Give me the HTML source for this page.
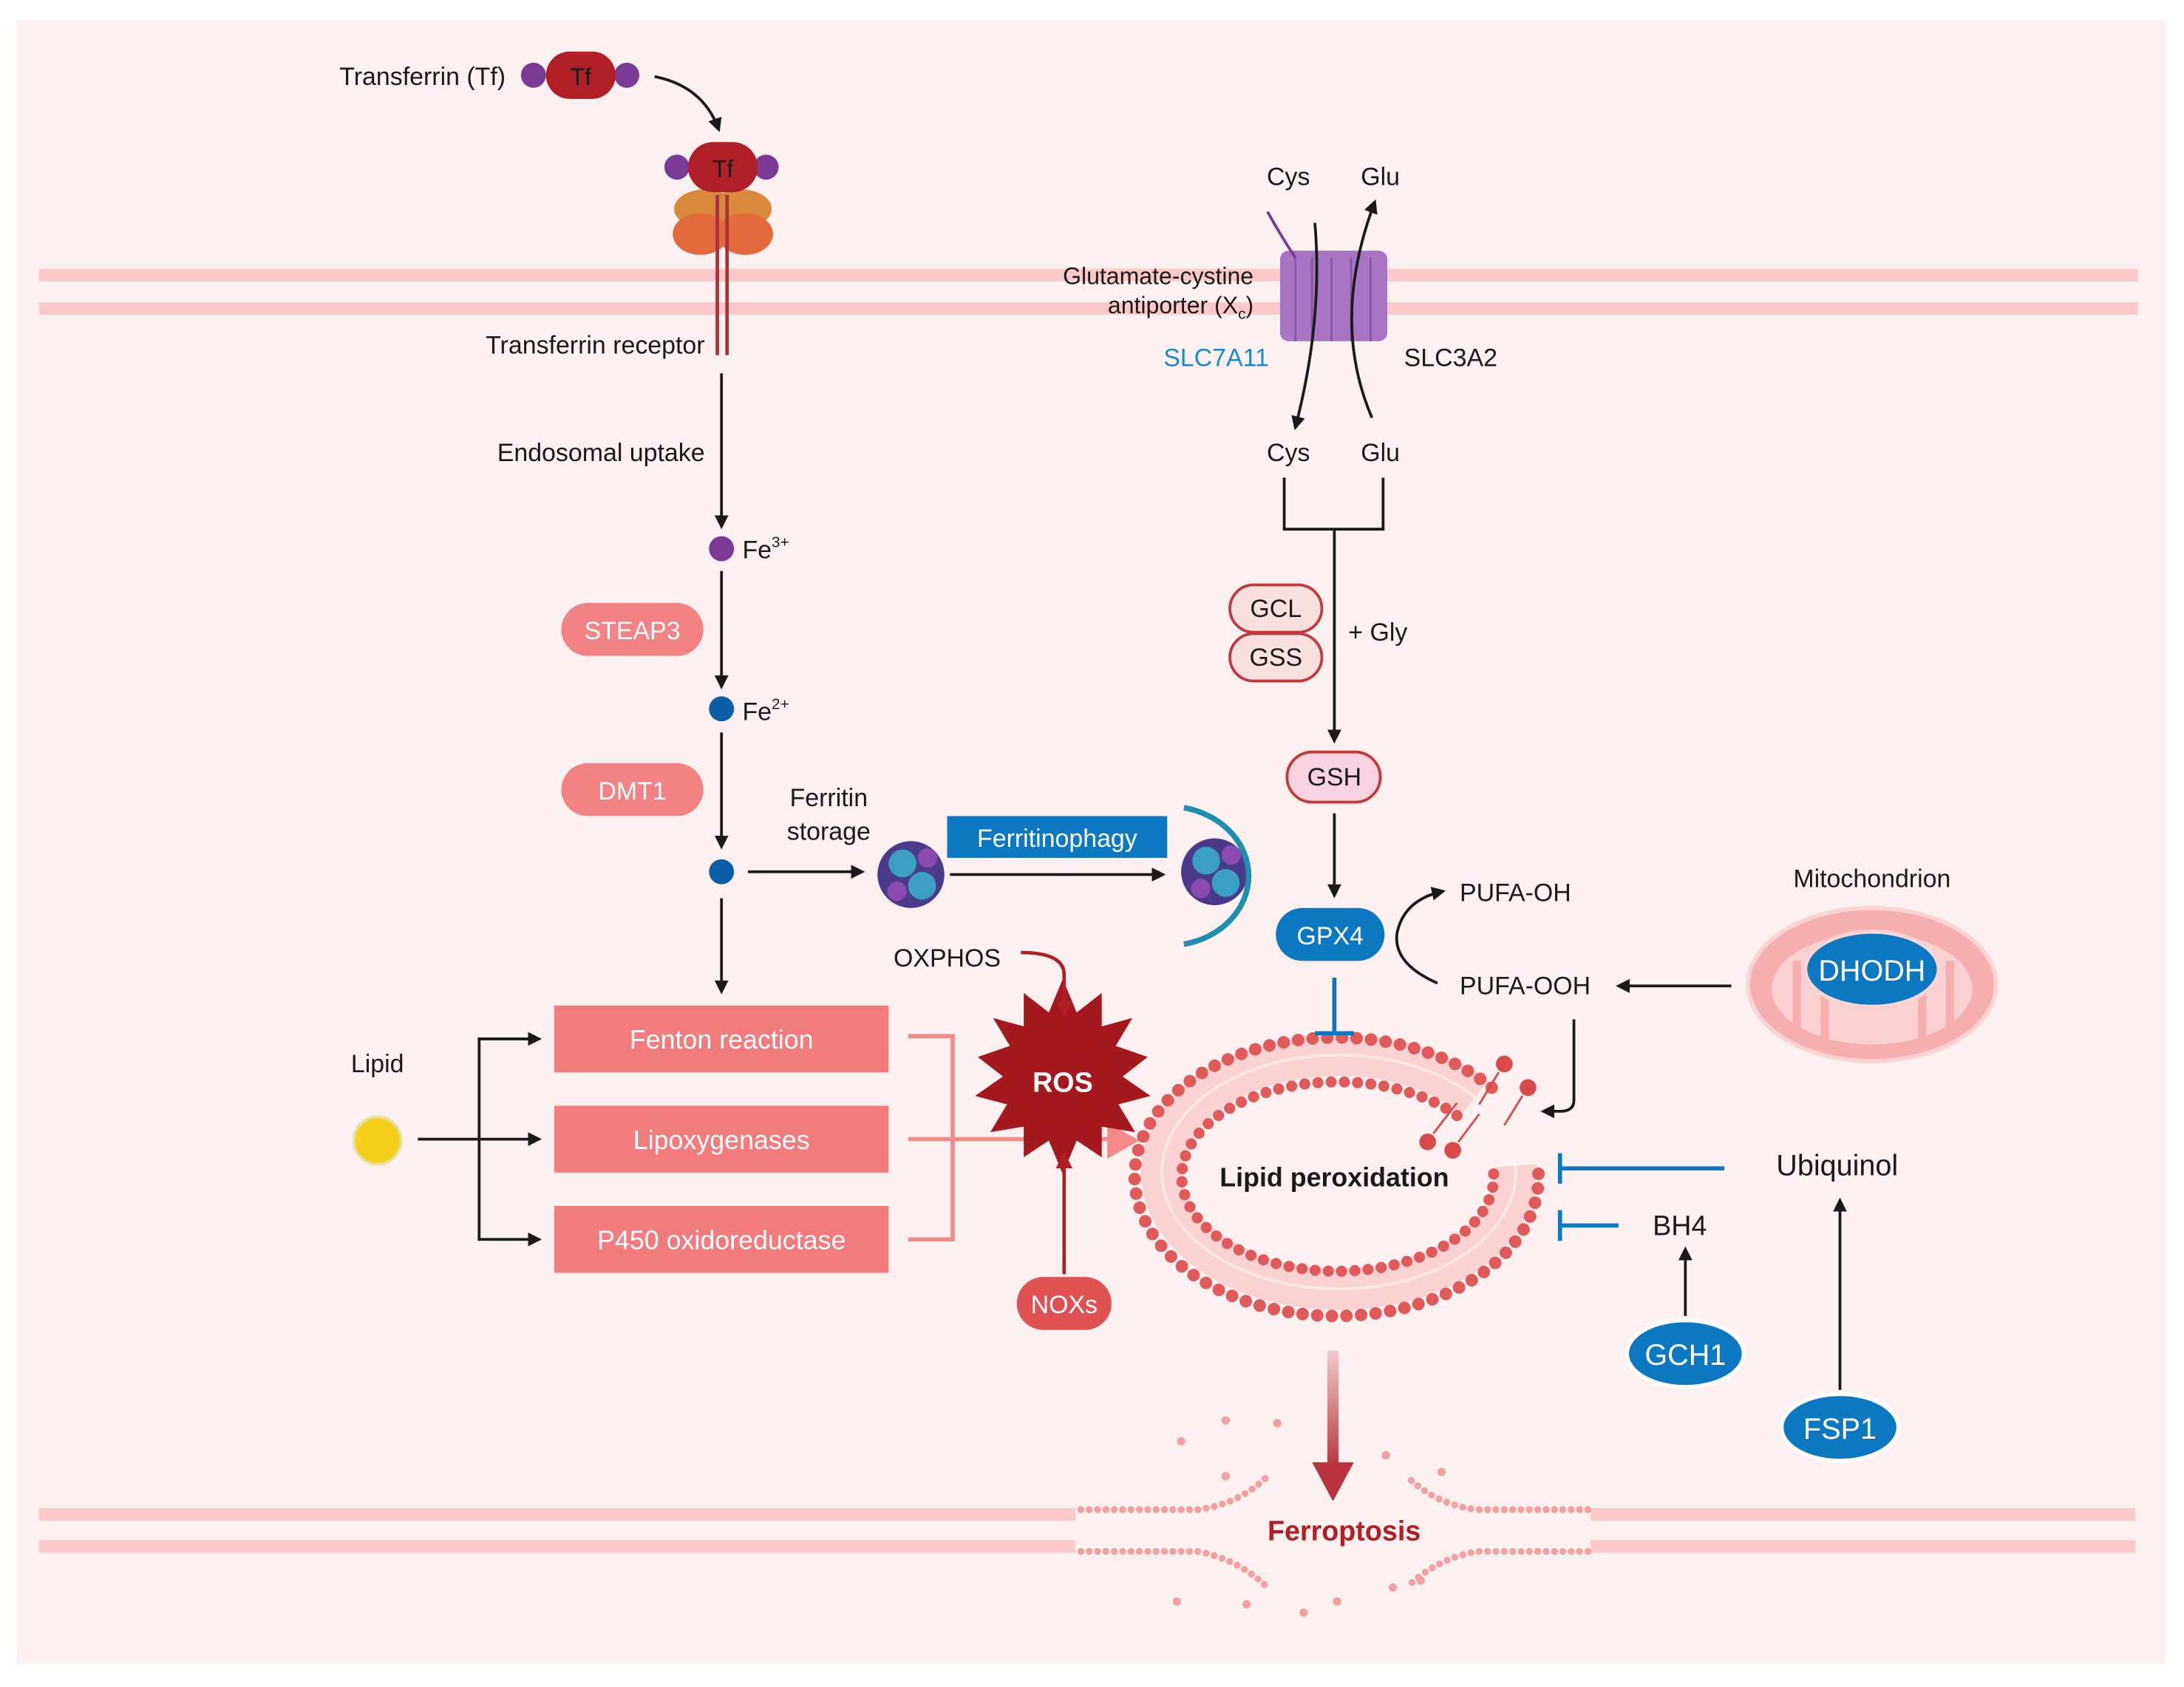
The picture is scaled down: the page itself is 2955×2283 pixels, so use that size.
<!DOCTYPE html>
<html><head><meta charset="utf-8"><style>
html,body{margin:0;padding:0;background:#fff}
svg{display:block}
text{font-family:"Liberation Sans",sans-serif}
</style></head><body>
<svg width="2955" height="2283" viewBox="0 0 1568 1211.4" xmlns="http://www.w3.org/2000/svg">
<defs>
<marker id="ab" markerWidth="10" markerHeight="10" refX="8" refY="5" orient="auto" markerUnits="userSpaceOnUse"><path d="M0,0 L10,5 L0,10 z" fill="#1a1a1a"/></marker>
<marker id="ar" markerWidth="12" markerHeight="12" refX="9" refY="6" orient="auto" markerUnits="userSpaceOnUse"><path d="M0,0 L12,6 L0,12 z" fill="#b01f25"/></marker>
<linearGradient id="fg" x1="0" y1="0" x2="0" y2="1"><stop offset="0" stop-color="#b8333b" stop-opacity="0.2"/><stop offset="1" stop-color="#b8333b"/></linearGradient>
</defs>
<rect width="1568" height="1211.4" fill="#fff"/>
<rect x="12" y="15" width="1543" height="1180" fill="#fdf0f0"/>
<rect x="28" y="193" width="1507" height="9" fill="#fbc9c9"/>
<rect x="28" y="217" width="1507" height="9" fill="#fbc9c9"/>
<rect x="28" y="1083" width="1505" height="9" fill="#fbc9c9"/>
<rect x="28" y="1106" width="1505" height="9" fill="#fbc9c9"/>
<g fill="#f3a0a0">
<rect x="772" y="1078" width="370" height="42" fill="#fdf0f0"/>
<g stroke="#f3a0a0" stroke-width="5" stroke-dasharray="0 6" stroke-linecap="round" fill="none">
<path d="M776,1084 L860,1084 Q890,1080 910,1060"/><path d="M776,1114 L860,1114 Q890,1120 910,1140"/>
<path d="M1140,1084 L1060,1084 Q1030,1080 1010,1060"/><path d="M1140,1114 L1060,1114 Q1030,1120 1010,1140"/>
</g>
<circle cx="848" cy="1035" r="3"/><circle cx="880" cy="1020" r="3"/><circle cx="917" cy="1022" r="3"/><circle cx="995" cy="1045" r="3"/><circle cx="1035" cy="1057" r="3"/><circle cx="880" cy="1060" r="3"/><circle cx="845" cy="1150" r="3"/><circle cx="895" cy="1152" r="3"/><circle cx="960" cy="1150" r="3"/><circle cx="1000" cy="1140" r="3"/><circle cx="936" cy="1158" r="3"/><circle cx="1020" cy="1135" r="3"/>
</g>
<text x="965" y="1106" font-size="20" font-weight="bold" fill="#b01f25" text-anchor="middle">Ferroptosis</text>
<rect x="953" y="970" width="8" height="85" fill="url(#fg)"/>
<path d="M942,1050 L972,1050 L957,1078 z" fill="#b8333b"/>

<text x="363" y="61" font-size="18" text-anchor="end" fill="#1a1a1a">Transferrin (Tf)</text>
<circle cx="383" cy="54" r="9" fill="#7b3a96"/><circle cx="450" cy="54" r="9" fill="#7b3a96"/>
<rect x="392" y="37" width="50" height="34" rx="17" fill="#b01f25"/>
<text x="417" y="61" font-size="17" text-anchor="middle" fill="#1a1a1a">Tf</text>
<path d="M470,55 Q505,62 516,93" stroke="#1a1a1a" stroke-width="2" fill="none" marker-end="url(#ab)"/>
<ellipse cx="506" cy="150" rx="22" ry="14" fill="#d9893a"/><ellipse cx="532" cy="150" rx="22" ry="14" fill="#d9893a"/>
<ellipse cx="503" cy="168" rx="20" ry="15" fill="#e26a3c"/><ellipse cx="535" cy="168" rx="20" ry="15" fill="#e26a3c"/>
<circle cx="486" cy="120" r="9" fill="#7b3a96"/><circle cx="550" cy="120" r="9" fill="#7b3a96"/>
<rect x="494" y="102" width="50" height="36" rx="18" fill="#b01f25"/>
<text x="519" y="127" font-size="17" text-anchor="middle" fill="#1a1a1a">Tf</text>
<path d="M515,140 L515,255 M522,140 L522,255" stroke="#a83238" stroke-width="2.5"/>
<text x="506" y="254" font-size="18" text-anchor="end" fill="#1a1a1a">Transferrin receptor</text>
<line x1="518" y1="268" x2="518" y2="378" stroke="#1a1a1a" stroke-width="2" marker-end="url(#ab)"/>
<text x="506" y="331" font-size="18" text-anchor="end" fill="#1a1a1a">Endosomal uptake</text>
<circle cx="518" cy="394" r="9" fill="#7b3a96"/>
<text x="533" y="401" font-size="18" fill="#1a1a1a">Fe<tspan font-size="11" dy="-8">3+</tspan></text>
<line x1="518" y1="410" x2="518" y2="493" stroke="#1a1a1a" stroke-width="2" marker-end="url(#ab)"/>
<rect x="403" y="433" width="102" height="38" rx="19" fill="#f38282"/>
<text x="454" y="459" font-size="18" text-anchor="middle" fill="#fff">STEAP3</text>
<circle cx="518" cy="509" r="9" fill="#0d5ea8"/>
<text x="533" y="517" font-size="18" fill="#1a1a1a">Fe<tspan font-size="11" dy="-8">2+</tspan></text>
<line x1="518" y1="526" x2="518" y2="608" stroke="#1a1a1a" stroke-width="2" marker-end="url(#ab)"/>
<rect x="403" y="548" width="102" height="38" rx="19" fill="#f38282"/>
<text x="454" y="574" font-size="18" text-anchor="middle" fill="#fff">DMT1</text>
<circle cx="518" cy="626" r="9" fill="#0d5ea8"/>
<line x1="518" y1="645" x2="518" y2="712" stroke="#1a1a1a" stroke-width="2" marker-end="url(#ab)"/>
<line x1="537" y1="626" x2="619" y2="626" stroke="#1a1a1a" stroke-width="2" marker-end="url(#ab)"/>
<text x="595" y="579" font-size="18" text-anchor="middle" fill="#1a1a1a">Ferritin</text>
<text x="595" y="603" font-size="18" text-anchor="middle" fill="#1a1a1a">storage</text>
<g>
<circle cx="654" cy="628" r="24" fill="#4a3a8a"/><circle cx="648" cy="620" r="10" fill="#3b9ec4"/><circle cx="662" cy="636" r="10" fill="#3b9ec4"/><circle cx="644" cy="640" r="7" fill="#8a4ab0"/><circle cx="666" cy="616" r="7" fill="#8a4ab0"/>
</g>
<line x1="682" y1="628" x2="835" y2="628" stroke="#1a1a1a" stroke-width="2" marker-end="url(#ab)"/>
<rect x="680" y="586" width="158" height="30" fill="#0b78c1"/>
<text x="759" y="608" font-size="18" text-anchor="middle" fill="#fff">Ferritinophagy</text>
<g>
<circle cx="872" cy="626" r="24" fill="#4a3a8a"/><circle cx="866" cy="618" r="10" fill="#3b9ec4"/><circle cx="880" cy="634" r="10" fill="#3b9ec4"/><circle cx="862" cy="638" r="7" fill="#8a4ab0"/><circle cx="884" cy="614" r="7" fill="#8a4ab0"/>
</g>
<path d="M850,580 A58,50 0 0 1 850,678" stroke="#1e8fb0" stroke-width="4" fill="none"/>
<text x="271" y="770" font-size="18" text-anchor="middle" fill="#1a1a1a">Lipid</text>
<circle cx="271" cy="819" r="17" fill="#f5cf1a" stroke="#e8e0a0" stroke-width="2"/>
<line x1="300" y1="818" x2="387" y2="818" stroke="#1a1a1a" stroke-width="2" marker-end="url(#ab)"/>
<path d="M387,746 L344,746 L344,890 L387,890" stroke="#1a1a1a" stroke-width="2" fill="none" marker-end="url(#ab)"/>
<line x1="344" y1="746" x2="387" y2="746" stroke="#1a1a1a" stroke-width="2" marker-end="url(#ab)"/>
<rect x="398" y="722" width="240" height="48" fill="#f27b7b"/>
<rect x="398" y="794" width="240" height="48" fill="#f27b7b"/>
<rect x="398" y="866" width="240" height="48" fill="#f27b7b"/>
<text x="518" y="753" font-size="19" text-anchor="middle" fill="#fff">Fenton reaction</text>
<text x="518" y="825" font-size="19" text-anchor="middle" fill="#fff">Lipoxygenases</text>
<text x="518" y="897" font-size="19" text-anchor="middle" fill="#fff">P450 oxidoreductase</text>
<path d="M652,744 L684,744 L684,890 L652,890 M652,818 L800,818" stroke="#f28a8a" stroke-width="3" fill="none"/>
<path d="M795,806 L818,819 L795,832 z" fill="#f48a8a"/>

<!-- lipid ring -->
<g fill="none">
<path d="M1059,788 A127,84 0 1 0 1088,837" stroke="#fbd2d2" stroke-width="30"/>
<path d="M1059,788 A127,84 0 1 0 1088,837" stroke="#fde6e6" stroke-width="2"/>
<path d="M1071,781 A145,100 0 1 0 1104,836" stroke="#e05a5a" stroke-width="9" stroke-dasharray="0 10.5" stroke-linecap="round"/>
<path d="M1046,801 A112,68 0 1 0 1072,839" stroke="#e05a5a" stroke-width="8" stroke-dasharray="0 9.5" stroke-linecap="round"/>
</g>
<g fill="#d94a4a"><circle cx="1080" cy="764" r="6"/><circle cx="1097" cy="781" r="6"/><circle cx="1025" cy="820" r="6"/><circle cx="1043" cy="826" r="6"/></g>
<g stroke="#d94a4a" stroke-width="1.5"><line x1="1076" y1="770" x2="1062" y2="793"/><line x1="1093" y1="787" x2="1080" y2="808"/><line x1="1029" y1="814" x2="1046" y2="792"/><line x1="1047" y1="820" x2="1062" y2="800"/></g>
<text x="958" y="852" font-size="19" font-weight="bold" text-anchor="middle" fill="#1a1a1a">Lipid peroxidation</text>

<polygon fill="#a3191e" points="763,703 773,727 791,713 791,737 813,731 801,751 824,759 806,773 826,787 803,793 815,813 791,809 791,831 773,819 763,843 753,819 735,831 735,809 711,813 723,793 700,787 720,773 702,759 725,751 713,731 735,737 735,713 753,727"/>
<text x="763" y="784" font-size="20" font-weight="bold" text-anchor="middle" fill="#fff">ROS</text>
<text x="680" y="694" font-size="18" text-anchor="middle" fill="#1a1a1a">OXPHOS</text>
<path d="M733,684 Q764,684 764,700 L764,728" stroke="#b01f25" stroke-width="2.5" fill="none" marker-end="url(#ar)"/>
<line x1="764" y1="915" x2="764" y2="830" stroke="#b01f25" stroke-width="2.5" marker-end="url(#ar)"/>
<rect x="730" y="917" width="68" height="38" rx="19" fill="#e05252"/>
<text x="764" y="943" font-size="18" text-anchor="middle" fill="#fff">NOXs</text>

<text x="925" y="133" font-size="18" text-anchor="middle" fill="#1a1a1a">Cys</text>
<text x="991" y="133" font-size="18" text-anchor="middle" fill="#1a1a1a">Glu</text>
<rect x="919" y="180" width="77" height="65" rx="6" fill="#a874c4"/>
<g stroke="#8a54a8" stroke-width="1.5"><line x1="930" y1="185" x2="930" y2="245"/><line x1="942" y1="185" x2="942" y2="245"/><line x1="956" y1="185" x2="956" y2="245"/><line x1="970" y1="185" x2="970" y2="245"/><line x1="984" y1="185" x2="984" y2="245"/></g>
<path d="M910,152 Q920,170 930,185" stroke="#7b3a96" stroke-width="2" fill="none"/>
<path d="M944,160 Q950,230 930,307" stroke="#1a1a1a" stroke-width="2" fill="none" marker-end="url(#ab)"/>
<path d="M985,300 Q955,230 987,145" stroke="#1a1a1a" stroke-width="2" fill="none" marker-end="url(#ab)"/>
<text x="900" y="204" font-size="17" text-anchor="end" fill="#1a1a1a">Glutamate-cystine</text>
<text x="900" y="225" font-size="17" text-anchor="end" fill="#1a1a1a">antiporter (X<tspan font-size="11" dy="4">c</tspan><tspan dy="-4">)</tspan></text>
<text x="911" y="263" font-size="18" text-anchor="end" fill="#1a8ad0">SLC7A11</text>
<text x="1008" y="263" font-size="18" fill="#1a1a1a">SLC3A2</text>
<text x="925" y="331" font-size="18" text-anchor="middle" fill="#1a1a1a">Cys</text>
<text x="991" y="331" font-size="18" text-anchor="middle" fill="#1a1a1a">Glu</text>
<path d="M922,343 L922,380 L993,380 L993,343" stroke="#1a1a1a" stroke-width="2" fill="none"/>
<line x1="958" y1="380" x2="958" y2="532" stroke="#1a1a1a" stroke-width="2" marker-end="url(#ab)"/>
<rect x="883" y="420" width="66" height="34" rx="17" fill="#fbe0e0" stroke="#c0393f" stroke-width="2"/>
<text x="916" y="443" font-size="18" text-anchor="middle" fill="#1a1a1a">GCL</text>
<rect x="883" y="455" width="66" height="34" rx="17" fill="#fbe0e0" stroke="#c0393f" stroke-width="2"/>
<text x="916" y="478" font-size="18" text-anchor="middle" fill="#1a1a1a">GSS</text>
<text x="968" y="460" font-size="18" fill="#1a1a1a">+ Gly</text>
<rect x="924" y="540" width="67" height="36" rx="18" fill="#f9d2e2" stroke="#c0393f" stroke-width="2"/>
<text x="958" y="564" font-size="18" text-anchor="middle" fill="#1a1a1a">GSH</text>
<line x1="958" y1="584" x2="958" y2="643" stroke="#1a1a1a" stroke-width="2" marker-end="url(#ab)"/>
<rect x="916" y="652" width="78" height="38" rx="19" fill="#0b78c1"/>
<text x="955" y="678" font-size="18" text-anchor="middle" fill="#fff">GPX4</text>
<path d="M1032,706 Q1000,692 1003,670 Q1008,646 1036,640" stroke="#1a1a1a" stroke-width="2" fill="none" marker-end="url(#ab)"/>
<text x="1048" y="647" font-size="18" fill="#1a1a1a">PUFA-OH</text>
<text x="1048" y="714" font-size="18" fill="#1a1a1a">PUFA-OOH</text>
<path d="M958,702 L958,742 M944,742 L972,742" stroke="#0b78c1" stroke-width="3" fill="none"/>
<line x1="1243" y1="708" x2="1162" y2="708" stroke="#1a1a1a" stroke-width="2" marker-end="url(#ab)"/>
<path d="M1130,732 L1130,790 Q1130,798 1120,798 L1108,798" stroke="#1a1a1a" stroke-width="2" fill="none" marker-end="url(#ab)"/>
<text x="1344" y="637" font-size="18" text-anchor="middle" fill="#1a1a1a">Mitochondrion</text>
<ellipse cx="1344" cy="707" rx="89" ry="55" fill="#f6aeae" stroke="#fbd3d3" stroke-width="3"/>
<ellipse cx="1344" cy="710" rx="72" ry="40" fill="#fbd0d0"/>
<g stroke="#f6aeae" stroke-width="6" fill="none"><path d="M1290,690 L1290,740"/><path d="M1310,700 L1310,748"/><path d="M1380,700 L1380,748"/><path d="M1400,690 L1400,740"/></g>
<ellipse cx="1344" cy="696" rx="48" ry="27" fill="#0b78c1" stroke="#fbd3d3" stroke-width="3"/>
<text x="1344" y="704" font-size="21" text-anchor="middle" fill="#fff">DHODH</text>
<path d="M1238,839 L1120,839 M1120,828 L1120,850" stroke="#0b78c1" stroke-width="3" fill="none"/>
<path d="M1162,880 L1120,880 M1120,869 L1120,891" stroke="#0b78c1" stroke-width="3" fill="none"/>
<text x="1319" y="844" font-size="21" text-anchor="middle" fill="#1a1a1a">Ubiquinol</text>
<text x="1206" y="887" font-size="20" text-anchor="middle" fill="#1a1a1a">BH4</text>
<line x1="1210" y1="945" x2="1210" y2="897" stroke="#1a1a1a" stroke-width="2" marker-end="url(#ab)"/>
<line x1="1321" y1="998" x2="1321" y2="862" stroke="#1a1a1a" stroke-width="2" marker-end="url(#ab)"/>
<ellipse cx="1210" cy="972" rx="42" ry="24" fill="#0b78c1" stroke="#fff" stroke-width="3"/>
<text x="1210" y="980" font-size="21" text-anchor="middle" fill="#fff">GCH1</text>
<ellipse cx="1321" cy="1025" rx="42" ry="24" fill="#0b78c1" stroke="#fff" stroke-width="3"/>
<text x="1321" y="1033" font-size="21" text-anchor="middle" fill="#fff">FSP1</text>
</svg>
</body></html>
